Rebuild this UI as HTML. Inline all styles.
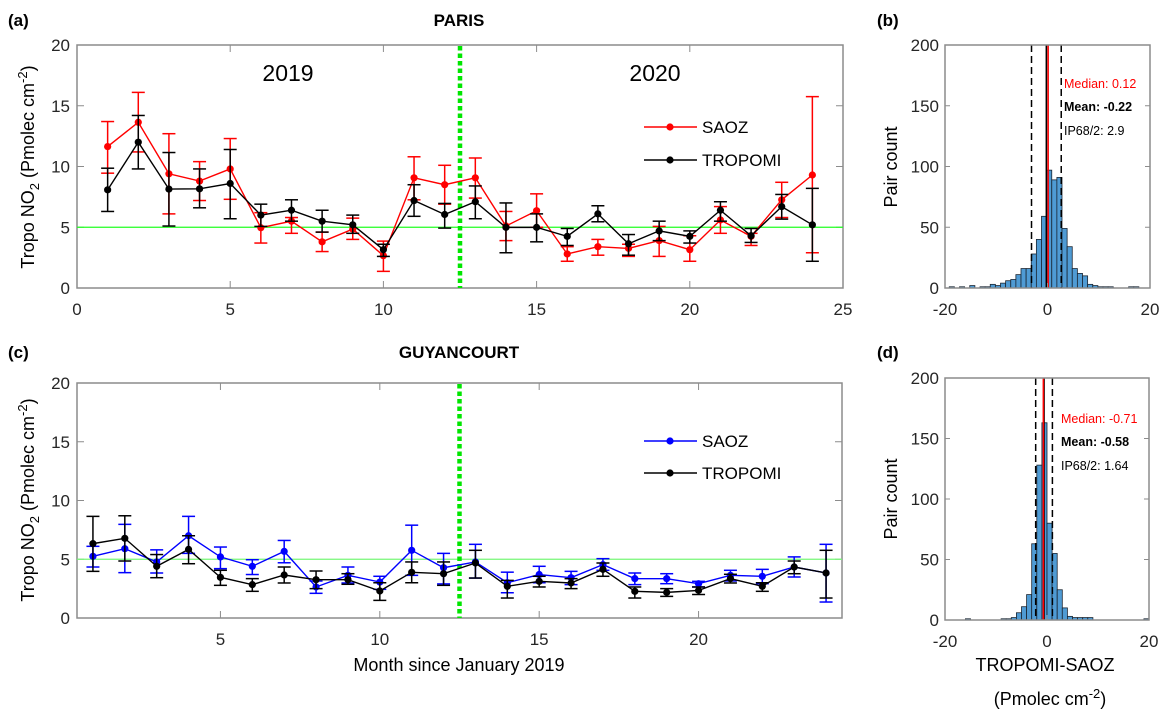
<!DOCTYPE html>
<html><head><meta charset="utf-8"><style>
body{margin:0;background:#fff;}
svg{display:block;font-family:"Liberation Sans",Arial,sans-serif;}
</style></head><body>
<svg id="fig" width="1170" height="723" viewBox="0 0 1170 723"></svg>
<script>
// ---- data ----
const months = [1,2,3,4,5,6,7,8,9,10,11,12,13,14,15,16,17,18,19,20,21,22,23,24];
const parisSaoz = [11.64,13.64,9.4,8.8,9.8,4.96,5.5,3.8,4.85,2.66,9.07,8.5,9.07,5.1,6.36,2.8,3.4,3.26,3.9,3.15,5.6,4.25,7.26,9.3];
const parisSaozHi = [13.7,16.1,12.7,10.4,12.3,6.2,5.8,4.6,5.75,3.86,10.8,10.1,10.7,6.3,7.75,3.4,4.0,3.6,5.07,4.3,6.7,4.5,8.7,15.75];
const parisSaozLo = [9.45,11.2,6.1,7.2,7.3,3.7,4.5,3.0,4.0,1.37,7.26,6.9,7.4,3.9,5.0,2.2,2.7,2.6,2.6,2.2,4.5,3.5,5.8,2.9];
const parisTropomi = [8.08,12.0,8.14,8.16,8.6,6.0,6.4,5.5,5.2,3.15,7.2,6.05,7.1,4.99,4.99,4.25,6.1,3.64,4.7,4.25,6.4,4.3,6.7,5.2];
const parisTropomiHi = [9.86,14.2,11.15,9.8,11.4,6.9,7.26,6.4,6.0,3.6,8.5,6.96,8.4,7.0,6.1,4.9,6.77,4.4,5.5,4.7,7.1,4.9,7.7,8.2];
const parisTropomiLo = [6.3,9.8,5.1,6.6,5.7,5.07,5.5,4.6,4.5,2.6,5.9,4.93,5.7,2.9,3.8,3.5,5.45,2.7,3.9,3.7,5.5,3.75,5.67,2.2];
const guySaoz = [5.25,5.9,4.77,7.0,5.2,4.4,5.67,2.64,3.63,3.06,5.76,4.28,4.77,3.0,3.7,3.43,4.54,3.35,3.35,2.92,3.63,3.55,4.34,3.83];
const guySaozHi = [6.1,7.97,5.8,8.65,6.04,4.96,6.6,3.15,4.34,3.55,7.9,5.5,6.27,3.9,4.4,3.97,5.05,3.83,3.77,3.12,4.06,4.14,5.2,6.27];
const guySaozLo = [4.34,3.86,3.83,5.5,4.2,3.7,4.7,2.1,2.98,2.44,3.63,2.9,3.4,2.15,3.0,2.84,4.06,2.84,2.92,2.64,3.15,2.92,3.49,1.36];
const guyTropomi = [6.33,6.78,4.4,5.84,3.46,2.84,3.66,3.26,3.26,2.3,3.89,3.77,4.68,2.7,3.12,2.98,4.14,2.27,2.18,2.35,3.35,2.7,4.34,3.83];
const guyTropomiHi = [8.65,8.7,5.4,7.0,4.06,3.35,4.34,4.0,3.77,3.0,4.77,4.77,5.76,3.2,3.55,3.35,4.68,2.64,2.5,2.64,3.72,3.0,4.85,5.76];
const guyTropomiLo = [3.97,4.85,3.43,4.62,2.78,2.27,2.98,2.5,2.87,1.5,3.0,2.78,3.4,1.7,2.64,2.5,3.55,1.7,1.84,2.0,2.98,2.27,3.77,1.7];
const yTicks = [0,5,10,15,20];
const xTicksA = [0,5,10,15,20,25];
const xTicksC = [5,10,15,20];
const histTicksY = [0,50,100,150,200];
const histTicksX = [-20,0,20];
const histBinStartB = -20.17;
const histCountsB = [0,1,0,1,0,2,0,1,1,3,2,4,6,7,11,16,16,28,40,59,97,89,91,49,34,16,12,10,3,2,1,1,1,0,0,0,1,1,0,0];
const histBinStartD = -20;
const histCountsD = [0,0,0,0,1,0,0,0,0,0,0,1,1,2,6,11,21,63,128,163,80,55,25,10,3,2,2,2,2,0,0,0,0,0,0,0,0,0,0,1];
const statsB = {median:0.12, mean:-0.22, ip:2.9};
const statsD = {median:-0.71, mean:-0.58, ip:1.64};

const NS='http://www.w3.org/2000/svg';
const svg=document.getElementById('fig');
function el(tag,attrs,parent,text){const e=document.createElementNS(NS,tag);for(const k in attrs)e.setAttribute(k,attrs[k]);if(text!==undefined)e.textContent=text;(parent||svg).appendChild(e);return e;}
const AX='#8c8c8c', TX='#262626';

function lineAxes(name,L,R,T,B,x0,x1,xt,showXLabels){
  const g=el('g',{});  
  const sx=v=>L+(v-x0)/(x1-x0)*(R-L), sy=v=>B-v/20*(B-T);
  el('rect',{x:L,y:T,width:R-L,height:B-T,fill:'none',stroke:AX,'stroke-width':1.5},g);
  yTicks.forEach(v=>{const y=sy(v);el('line',{x1:L,x2:L+7,y1:y,y2:y,stroke:AX},g);el('line',{x1:R,x2:R-7,y1:y,y2:y,stroke:AX},g);
    const t=el('text',{x:L-7,y:y+6,'text-anchor':'end','font-size':17,fill:TX},g,v);});
  xt.forEach(v=>{const x=sx(v);el('line',{x1:x,x2:x,y1:B,y2:B-7,stroke:AX},g);el('line',{x1:x,x2:x,y1:T,y2:T+7,stroke:AX},g);
    const t=el('text',{x:x,y:B+27,'text-anchor':'middle','font-size':17,fill:TX},g,v);});
  return {g,sx,sy};
}
function series(ax,vals,hi,lo,color,name){
  const g=el('g',{},ax.g);  
  const pts=months.map((m,i)=>ax.sx(m)+','+ax.sy(vals[i])).join(' ');
  months.forEach((m,i)=>{const x=ax.sx(m);
    el('line',{x1:x,x2:x,y1:ax.sy(hi[i]),y2:ax.sy(lo[i]),stroke:color,'stroke-width':1.5},g);
    [hi[i],lo[i]].forEach(v=>el('line',{x1:x-6.5,x2:x+6.5,y1:ax.sy(v),y2:ax.sy(v),stroke:color,'stroke-width':1.5},g));});
  el('polyline',{points:pts,fill:'none',stroke:color,'stroke-width':1.4},g);
  months.forEach((m,i)=>{const c=el('circle',{cx:ax.sx(m),cy:ax.sy(vals[i]),r:3.6,fill:color},g);});
}
function legend(ax,y,color,label,name){
  const g=el('g',{},ax.g);  
  el('line',{x1:644,x2:697,y1:y,y2:y,stroke:color,'stroke-width':1.4},g);
  el('circle',{cx:670,cy:y,r:3.6,fill:color},g);
  el('text',{x:702,y:y+6,'font-size':17,fill:'#000'},g,label);
}
function refLines(ax,green){
  el('line',{x1:ax.sx(ax.x0),x2:ax.sx(ax.x1),y1:ax.sy(5),y2:ax.sy(5),stroke:green,'stroke-width':1.3},ax.g);
  const x=ax.sx(12.5);
  el('line',{x1:x,x2:x,y1:ax.sy(20)+1,y2:ax.sy(0),stroke:'#00e600','stroke-width':4.5,'stroke-dasharray':'4.5 3'},ax.g);
}
// panel a
const a=lineAxes('paris-timeseries-axes',77,843,45,288,0,25,xTicksA); a.x0=0;a.x1=25;
refLines(a,'#22ff22');
series(a,parisSaoz,parisSaozHi,parisSaozLo,'#ff0000','paris-saoz-series');
series(a,parisTropomi,parisTropomiHi,parisTropomiLo,'#000000','paris-tropomi-series');
legend(a,127,'#ff0000','SAOZ','legend-saoz'); legend(a,160,'#000','TROPOMI','legend-tropomi');
el('text',{x:288,y:81,'text-anchor':'middle','font-size':23,fill:'#000'},a.g,'2019');
el('text',{x:655,y:81,'text-anchor':'middle','font-size':23,fill:'#000'},a.g,'2020');
// panel c
const c=lineAxes('guyancourt-timeseries-axes',77,842,383,618,0.5,24.5,xTicksC); c.x0=0.5;c.x1=24.5;
refLines(c,'#77f777');
series(c,guySaoz,guySaozHi,guySaozLo,'#0000ff','guyancourt-saoz-series');
series(c,guyTropomi,guyTropomiHi,guyTropomiLo,'#000000','guyancourt-tropomi-series');
legend(c,441,'#0000ff','SAOZ','legend-saoz-c'); legend(c,473,'#000','TROPOMI','legend-tropomi-c');

function hist(name,L,R,T,B,start,counts,st,ty){
  const g=el('g',{});  
  const sx=v=>L+(v+20)/40*(R-L), sy=v=>B-v/200*(B-T);
  counts.forEach((n,i)=>{if(n<=0)return;const x0=sx(start+i),x1=sx(start+i+1);
    const r=el('rect',{x:x0,y:sy(n),width:x1-x0,height:B-sy(n),fill:'#4f9bd4',stroke:'#1a2633','stroke-width':0.8},g);
    });
  const lo=st.mean-st.ip, hi=st.mean+st.ip;
  [lo,hi].forEach(v=>el('line',{x1:sx(v),x2:sx(v),y1:T,y2:B,stroke:'#000','stroke-width':1.5,'stroke-dasharray':'7 4'},g));
  el('line',{x1:sx(st.mean),x2:sx(st.mean),y1:T,y2:B,stroke:'#000','stroke-width':1.6},g);
  el('line',{x1:sx(st.median),x2:sx(st.median),y1:T,y2:B,stroke:'#ff0000','stroke-width':1.6},g);
  el('rect',{x:L,y:T,width:R-L,height:B-T,fill:'none',stroke:AX,'stroke-width':1.5},g);
  histTicksY.forEach(v=>{const y=sy(v);el('line',{x1:L,x2:L+5,y1:y,y2:y,stroke:AX},g);el('line',{x1:R,x2:R-5,y1:y,y2:y,stroke:AX},g);
    el('text',{x:L-6,y:y+6,'text-anchor':'end','font-size':17,fill:TX},g,v);});
  histTicksX.forEach(v=>{const x=sx(v);el('line',{x1:x,x2:x,y1:B,y2:B-5,stroke:AX},g);
    el('text',{x:x,y:B+27,'text-anchor':'middle','font-size':17,fill:TX},g,v);});
  el('text',{x:ty.x,y:ty.y,'font-size':12.5,fill:'#ff0000'},g,'Median: '+st.median);
  el('text',{x:ty.x,y:ty.y+23,'font-size':12.5,fill:'#000','font-weight':'bold'},g,'Mean: '+st.mean);
  el('text',{x:ty.x,y:ty.y+47,'font-size':12.5,fill:'#000'},g,'IP68/2: '+st.ip);
}
hist('paris-histogram',945,1150,45,288,histBinStartB,histCountsB,statsB,{x:1064,y:88});
hist('guyancourt-histogram',945,1149,378,620,histBinStartD,histCountsD,statsD,{x:1061,y:423});

function txt(x,y,s,attrs,name){const t=el('text',Object.assign({x:x,y:y,fill:'#000'},attrs),svg,s);return t;}
txt(8,26,'(a)',{'font-size':17,'font-weight':'bold'},'panel-a-label');
txt(877,26,'(b)',{'font-size':17,'font-weight':'bold'},'panel-b-label');
txt(8,358,'(c)',{'font-size':17,'font-weight':'bold'},'panel-c-label');
txt(877,358,'(d)',{'font-size':17,'font-weight':'bold'},'panel-d-label');
txt(459,26,'PARIS',{'font-size':17,'font-weight':'bold','text-anchor':'middle'},'paris-title');
txt(459,358,'GUYANCOURT',{'font-size':17,'font-weight':'bold','text-anchor':'middle'},'guyancourt-title');
function ylab(cx,cy,name){const t=el('text',{x:0,y:0,'font-size':18,fill:'#000','text-anchor':'middle',transform:'translate('+cx+','+cy+') rotate(-90)'});
  
  t.innerHTML='Tropo NO<tspan dy="5" font-size="13">2</tspan><tspan dy="-5"> (Pmolec cm</tspan><tspan dy="-7" font-size="13">-2</tspan><tspan dy="7">)</tspan>';}
ylab(34,167,'y-axis-title-a'); ylab(34,500,'y-axis-title-c');
const p1=el('text',{x:0,y:0,'font-size':18,'text-anchor':'middle',transform:'translate(897,167) rotate(-90)'},svg,'Pair count');

const p2=el('text',{x:0,y:0,'font-size':18,'text-anchor':'middle',transform:'translate(897,499) rotate(-90)'},svg,'Pair count');

txt(459,671,'Month since January 2019',{'font-size':18,'text-anchor':'middle'},'x-axis-title');
txt(1045,671,'TROPOMI-SAOZ',{'font-size':18,'text-anchor':'middle'},'hist-x-axis-title');
const u=txt(1050,705,'',{'font-size':18,'text-anchor':'middle'},'hist-x-axis-units');
u.innerHTML='(Pmolec cm<tspan dy="-7" font-size="13">-2</tspan><tspan dy="7">)</tspan>';
</script>
</body></html>
